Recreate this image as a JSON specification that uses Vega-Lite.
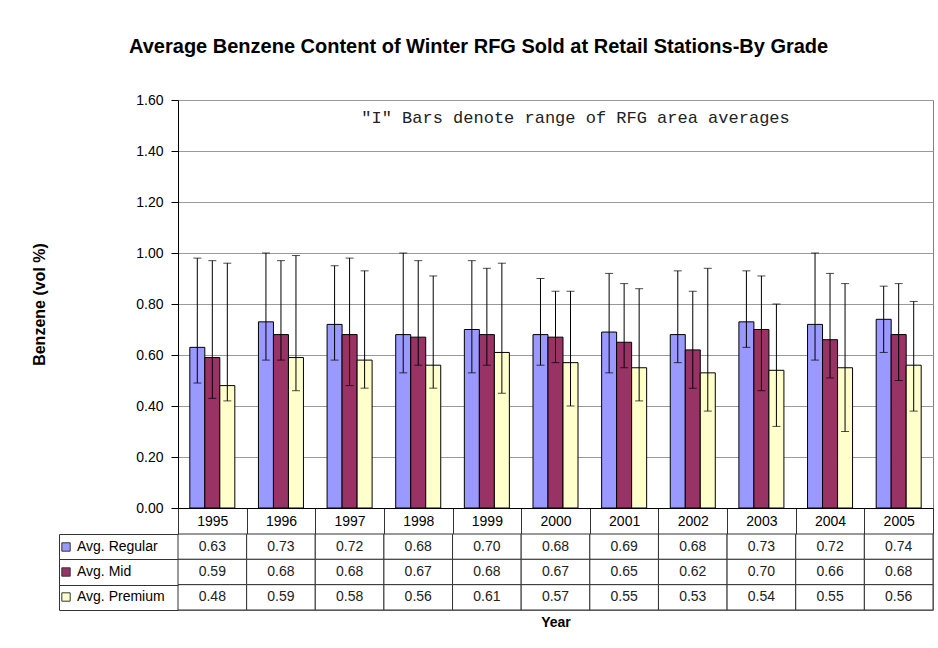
{
  "$schema": "https://vega.github.io/schema/vega-lite/v6.json",
  "background": "white",
  "padding": {"left": 31, "right": 5, "top": 36, "bottom": 16},
  "title": {"text": "Average Benzene Content of Winter RFG Sold at Retail Stations-By Grade", "fontSize": 20, "fontWeight": "bold", "font": "Liberation Sans", "color": "#000", "anchor": "middle", "offset": 36, "dx": -4},
  "datasets": {
    "benzene": [
      {"year": 1995, "grade": "Avg. Regular", "avg": 0.63, "low": 0.49, "high": 0.98},
      {"year": 1995, "grade": "Avg. Mid", "avg": 0.59, "low": 0.43, "high": 0.97},
      {"year": 1995, "grade": "Avg. Premium", "avg": 0.48, "low": 0.42, "high": 0.96},
      {"year": 1996, "grade": "Avg. Regular", "avg": 0.73, "low": 0.58, "high": 1.00},
      {"year": 1996, "grade": "Avg. Mid", "avg": 0.68, "low": 0.58, "high": 0.97},
      {"year": 1996, "grade": "Avg. Premium", "avg": 0.59, "low": 0.46, "high": 0.99},
      {"year": 1997, "grade": "Avg. Regular", "avg": 0.72, "low": 0.58, "high": 0.95},
      {"year": 1997, "grade": "Avg. Mid", "avg": 0.68, "low": 0.48, "high": 0.98},
      {"year": 1997, "grade": "Avg. Premium", "avg": 0.58, "low": 0.47, "high": 0.93},
      {"year": 1998, "grade": "Avg. Regular", "avg": 0.68, "low": 0.53, "high": 1.00},
      {"year": 1998, "grade": "Avg. Mid", "avg": 0.67, "low": 0.56, "high": 0.97},
      {"year": 1998, "grade": "Avg. Premium", "avg": 0.56, "low": 0.47, "high": 0.91},
      {"year": 1999, "grade": "Avg. Regular", "avg": 0.70, "low": 0.53, "high": 0.97},
      {"year": 1999, "grade": "Avg. Mid", "avg": 0.68, "low": 0.56, "high": 0.94},
      {"year": 1999, "grade": "Avg. Premium", "avg": 0.61, "low": 0.45, "high": 0.96},
      {"year": 2000, "grade": "Avg. Regular", "avg": 0.68, "low": 0.56, "high": 0.90},
      {"year": 2000, "grade": "Avg. Mid", "avg": 0.67, "low": 0.57, "high": 0.85},
      {"year": 2000, "grade": "Avg. Premium", "avg": 0.57, "low": 0.40, "high": 0.85},
      {"year": 2001, "grade": "Avg. Regular", "avg": 0.69, "low": 0.53, "high": 0.92},
      {"year": 2001, "grade": "Avg. Mid", "avg": 0.65, "low": 0.55, "high": 0.88},
      {"year": 2001, "grade": "Avg. Premium", "avg": 0.55, "low": 0.42, "high": 0.86},
      {"year": 2002, "grade": "Avg. Regular", "avg": 0.68, "low": 0.57, "high": 0.93},
      {"year": 2002, "grade": "Avg. Mid", "avg": 0.62, "low": 0.47, "high": 0.85},
      {"year": 2002, "grade": "Avg. Premium", "avg": 0.53, "low": 0.38, "high": 0.94},
      {"year": 2003, "grade": "Avg. Regular", "avg": 0.73, "low": 0.63, "high": 0.93},
      {"year": 2003, "grade": "Avg. Mid", "avg": 0.70, "low": 0.46, "high": 0.91},
      {"year": 2003, "grade": "Avg. Premium", "avg": 0.54, "low": 0.32, "high": 0.80},
      {"year": 2004, "grade": "Avg. Regular", "avg": 0.72, "low": 0.58, "high": 1.00},
      {"year": 2004, "grade": "Avg. Mid", "avg": 0.66, "low": 0.51, "high": 0.92},
      {"year": 2004, "grade": "Avg. Premium", "avg": 0.55, "low": 0.30, "high": 0.88},
      {"year": 2005, "grade": "Avg. Regular", "avg": 0.74, "low": 0.61, "high": 0.87},
      {"year": 2005, "grade": "Avg. Mid", "avg": 0.68, "low": 0.50, "high": 0.88},
      {"year": 2005, "grade": "Avg. Premium", "avg": 0.56, "low": 0.38, "high": 0.81}
    ]
  },
  "spacing": 26,
  "bounds": "flush",
  "resolve": {"legend": {"color": "independent"}},
  "vconcat": [
    {
      "width": 755,
      "height": 408,
      "data": {"name": "benzene"},
      "layer": [
        {
          "mark": {"type": "bar", "stroke": "#000", "strokeWidth": 1},
          "encoding": {
            "x": {"field": "year", "type": "ordinal", "scale": {"paddingInner": 0, "paddingOuter": 0},
              "axis": {"title": null, "labelFontSize": 14, "labelColor": "#000", "labelAngle": 0, "tickBand": "extent", "tickSize": 26, "tickColor": "#333", "labelPadding": -13, "labelBaseline": "middle", "domainColor": "#000", "grid": false}},
            "xOffset": {"field": "grade", "type": "nominal", "scale": {"domain": ["Avg. Regular", "Avg. Mid", "Avg. Premium"], "paddingInner": 0, "paddingOuter": 0.787}},
            "y": {"field": "avg", "type": "quantitative", "title": "Benzene (vol %)",
              "scale": {"domain": [0, 1.6], "nice": false},
              "axis": {"values": [0, 0.2, 0.4, 0.6, 0.8, 1.0, 1.2, 1.4, 1.6], "format": ".2f", "labelFontSize": 14, "labelColor": "#000", "tickSize": 7, "tickColor": "#000", "labelPadding": 8, "domainColor": "#000", "gridColor": "#999", "titleFontSize": 16, "titleFontWeight": "bold", "titleColor": "#000", "titlePadding": 88}},
            "color": {"field": "grade", "type": "nominal",
              "scale": {"domain": ["Avg. Regular", "Avg. Mid", "Avg. Premium"], "range": ["#9999FF", "#993366", "#FFFFCC"]},
              "legend": {"orient": "none", "legendX": -119, "legendY": 440, "title": null, "symbolType": "square", "symbolSize": 70, "symbolStrokeColor": "#333", "symbolStrokeWidth": 1, "labelFontSize": 14, "labelColor": "#000", "rowPadding": 11, "labelOffset": 4}}
          }
        },
        {
          "mark": {"type": "rule", "color": "#000", "strokeWidth": 1},
          "encoding": {
            "x": {"field": "year", "type": "ordinal"},
            "xOffset": {"field": "grade", "type": "nominal"},
            "y": {"field": "low", "type": "quantitative", "title": "Benzene (vol %)"},
            "y2": {"field": "high"}
          }
        },
        {
          "mark": {"type": "tick", "color": "#000", "thickness": 1, "size": 8},
          "encoding": {
            "x": {"field": "year", "type": "ordinal"},
            "xOffset": {"field": "grade", "type": "nominal"},
            "y": {"field": "low", "type": "quantitative", "title": "Benzene (vol %)"}
          }
        },
        {
          "mark": {"type": "tick", "color": "#000", "thickness": 1, "size": 8},
          "encoding": {
            "x": {"field": "year", "type": "ordinal"},
            "xOffset": {"field": "grade", "type": "nominal"},
            "y": {"field": "high", "type": "quantitative", "title": "Benzene (vol %)"}
          }
        },
        {
          "data": {"values": [{"note": "\"I\" Bars denote range of RFG area averages"}]},
          "mark": {"type": "text", "font": "Liberation Mono", "fontSize": 17, "color": "#222", "dx": 20},
          "encoding": {
            "y": {"datum": 1.53, "type": "quantitative", "title": "Benzene (vol %)"},
            "text": {"field": "note"}
          }
        }
      ]
    },
    {
      "width": 755,
      "height": 76,
      "data": {"name": "benzene"},
      "encoding": {
        "x": {"field": "year", "type": "ordinal", "scale": {"paddingInner": 0, "paddingOuter": 0},
          "axis": {"title": "Year", "labels": false, "ticks": false, "domain": false, "titleFontSize": 14, "titleFontWeight": "bold", "titleColor": "#000", "titlePadding": 5}},
        "y": {"field": "grade", "type": "nominal", "scale": {"domain": ["Avg. Regular", "Avg. Mid", "Avg. Premium"], "paddingInner": 0, "paddingOuter": 0},
          "axis": {"title": null, "labels": false, "offset": 119, "tickSize": -119, "tickBand": "extent", "domainColor": "#333", "tickColor": "#333", "grid": false}}
      },
      "layer": [
        {"mark": {"type": "rect", "fill": "white", "stroke": "#333", "strokeWidth": 1}},
        {"mark": {"type": "text", "fontSize": 14, "color": "#222"}, "encoding": {"text": {"field": "avg", "type": "quantitative", "format": ".2f"}}}
      ]
    }
  ],
  "config": {
    "font": "Liberation Sans",
    "view": {"stroke": "#808080"},
    "axis": {"labelFont": "Liberation Sans", "titleFont": "Liberation Sans"}
  }
}
